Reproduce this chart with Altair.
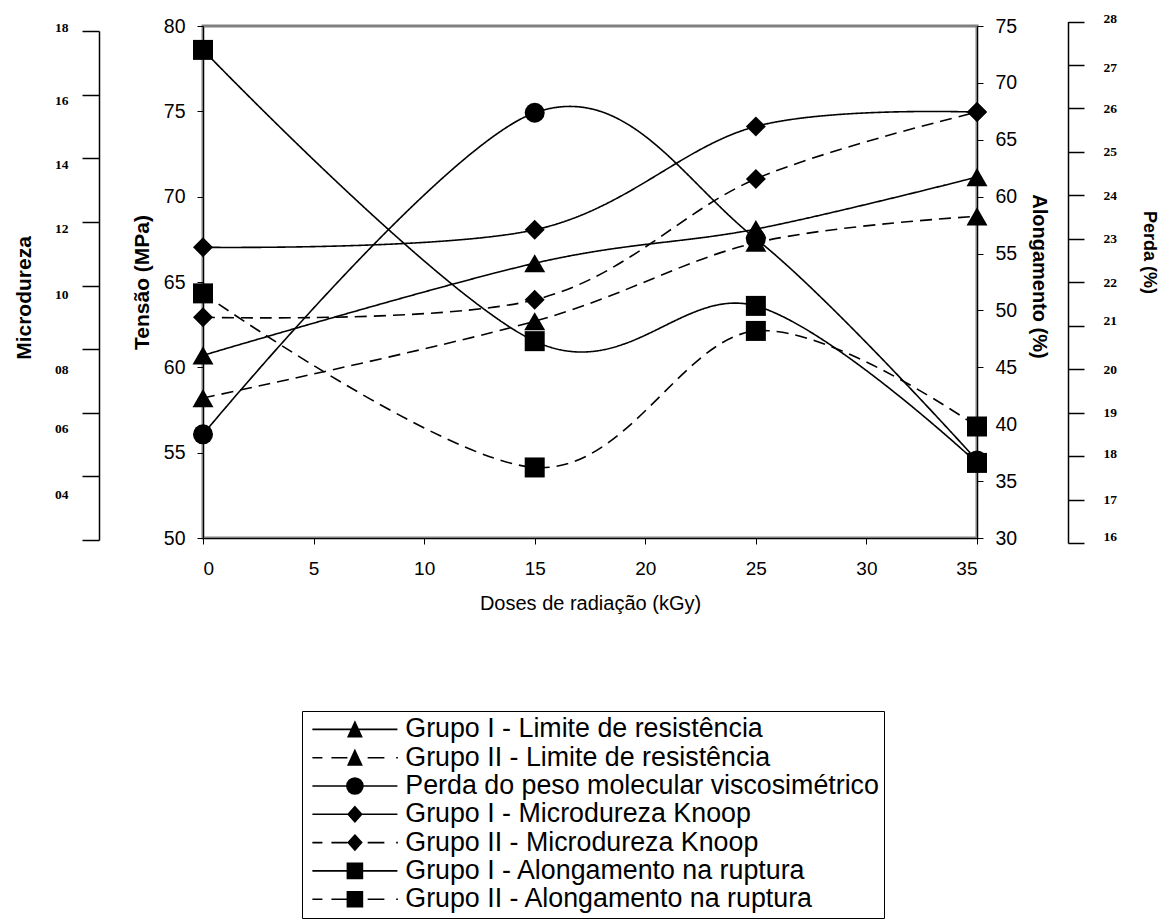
import altair as alt
import pandas as pd

# Doses de radiação (kGy)
doses = [0, 15, 25, 35]

# Séries medidas
limite_g1 = [60.7, 66.1, 68.1, 71.15]   # Tensão (MPa)
limite_g2 = [58.2, 62.7, 67.3, 68.85]   # Tensão (MPa)
perda_pm = [18.5, 25.9, 23.0, 17.9]     # Perda (%)
micro_g1 = [11.2, 11.75, 15.0, 15.45]   # Microdureza
micro_g2 = [9.0, 9.55, 13.35, 15.45]    # Microdureza
along_g1 = [72.9, 47.3, 50.4, 36.6]     # Alongamento (%)
along_g2 = [51.5, 36.2, 48.2, 39.8]     # Alongamento (%)

series_names = [
    "Grupo I - Limite de resistência",
    "Grupo II - Limite de resistência",
    "Perda do peso molecular viscosimétrico",
    "Grupo I - Microdureza Knoop",
    "Grupo II - Microdureza Knoop",
    "Grupo I - Alongamento na ruptura",
    "Grupo II - Alongamento na ruptura",
]

dose_ticks = [0, 5, 10, 15, 20, 25, 30, 35]
tensao_ticks = [50, 55, 60, 65, 70, 75, 80]
along_ticks = [30, 35, 40, 45, 50, 55, 60, 65, 70, 75]
micro_ticks = [2, 4, 6, 8, 10, 12, 14, 16, 18]
perda_ticks = [16, 17, 18, 19, 20, 21, 22, 23, 24, 25, 26, 27, 28]

SANS = "Liberation Sans"
SERIF = "Liberation Serif"


def frame(entries):
    rows = []
    for name, grupo, vals in entries:
        for d, v in zip(doses, vals):
            rows.append({"dose": d, "valor": v, "serie": name, "grupo": grupo})
    return pd.DataFrame(rows)


df_tensao = frame([(series_names[0], "I", limite_g1), (series_names[1], "II", limite_g2)])
df_perda = frame([(series_names[2], "I", perda_pm)])
df_micro = frame([(series_names[3], "I", micro_g1), (series_names[4], "II", micro_g2)])
df_along = frame([(series_names[5], "I", along_g1), (series_names[6], "II", along_g2)])

dash_scale = alt.Scale(domain=["I", "II"], range=[[1, 0], [12, 7]])

x_enc = alt.X(
    "dose:Q",
    scale=alt.Scale(domain=[0, 35], nice=False, zero=False),
    axis=alt.Axis(
        values=dose_ticks, title="Doses de radiação (kGy)", grid=False,
        labelFont=SANS, labelFontSize=19, labelColor="black", labelPadding=15,
        tickSize=6, tickColor="black", domainColor="black",
        titleFont=SANS, titleFontSize=20, titleFontWeight="normal",
        titleColor="black", titlePadding=15,
    ),
)


def cond_offset(shifts):
    return {
        "condition": [{"test": f"datum.value == {k}", "value": v} for k, v in shifts.items()],
        "value": 0,
    }


def series_layer(df, shape, size, y_scale, y_axis):
    base = alt.Chart(df).encode(x=x_enc, y=alt.Y("valor:Q", scale=y_scale, axis=y_axis))
    lines = base.mark_line(interpolate="cardinal", color="black", strokeWidth=1.6).encode(
        strokeDash=alt.StrokeDash("grupo:N", scale=dash_scale, legend=None),
        detail="serie:N",
    )
    points = base.mark_point(
        filled=True, shape=shape, size=size, color="black", opacity=1
    ).encode(detail="serie:N")
    return alt.layer(lines, points)


tensao = series_layer(
    df_tensao, "triangle-up", 441,
    alt.Scale(domain=[50, 80], nice=False, zero=False),
    alt.Axis(
        orient="left", values=tensao_ticks, grid=False, title="Tensão (MPa)",
        labelFont=SANS, labelFontSize=19.5, labelColor="black", labelPadding=12,
        tickSize=6, tickColor="black", domainColor="black",
        titleFont=SANS, titleFontSize=21, titleFontWeight="bold",
        titleColor="black", titlePadding=11,
    ),
)

alongamento = series_layer(
    df_along, "square", 400,
    alt.Scale(domain=[30, 75], nice=False, zero=False),
    alt.Axis(
        orient="right", values=along_ticks, grid=False, title="Alongamento (%)",
        labelFont=SANS, labelFontSize=19.5, labelColor="black", labelPadding=12,
        tickSize=6, tickColor="black", domainColor="black",
        titleFont=SANS, titleFontSize=20, titleFontWeight="bold",
        titleColor="black", titlePadding=12, titleY=250,
    ),
)

microdureza = series_layer(
    df_micro, "diamond", 400,
    alt.Scale(domain=[2, 18], range=[514, 5], nice=False, zero=False),
    alt.Axis(
        orient="left", offset=104, values=micro_ticks, grid=False, title="Microdureza",
        labelExpr="datum.value == 2 ? '' : (datum.value < 10 ? '0' + datum.value : '' + datum.value)",
        labelFont=SERIF, labelFontSize=13.5, labelFontWeight="bold", labelColor="black",
        labelPadding=14,
        labelOffset=cond_offset({18: -4, 16: 6, 14: 6, 12: 7, 10: 9, 8: 20, 6: 16, 4: 18}),
        tickSize=17, tickWidth=1.5, tickColor="black", domainColor="black", domainWidth=1.5,
        titleFont=SANS, titleFontSize=21, titleFontWeight="bold",
        titleColor="black", titlePadding=20, titleY=271.5,
    ),
)

perda = series_layer(
    df_perda, "circle", 400,
    alt.Scale(domain=[16, 28], range=[517, -4.5], nice=False, zero=False),
    alt.Axis(
        orient="right", offset=91, values=perda_ticks, grid=False, title="Perda (%)",
        labelFont=SERIF, labelFontSize=13.5, labelFontWeight="bold", labelColor="black",
        labelPadding=19,
        labelOffset=cond_offset({28: -3.5, 27: 3, 21: -5, 18: -3, 16: -7}),
        tickSize=16, tickWidth=1.5, tickColor="black", domainColor="black", domainWidth=1.5,
        titleFont=SANS, titleFontSize=18, titleFontWeight="bold",
        titleColor="black", titlePadding=23, titleY=226,
    ),
)

# Legend symbols: a short line (solid or dashed) crossed by the series marker
solid = "M-5.67,0H5.67"
dashed = "M-5.67,0H-4.33M-3.13,0H-1M1.7,0H3.93M5.5,0H5.73"
tri = "M0,-0.96L0.89,0.96L-0.89,0.96Z"
circ = "M-1.07,0A1.07,1.07 0 1,0 1.07,0A1.07,1.07 0 1,0 -1.07,0Z"
diam = "M0,-1L0.9,0L0,1L-0.9,0Z"
sq = "M-1,-1H1V1H-1Z"
legend_paths = [
    solid + tri, dashed + tri, solid + circ, solid + diam,
    dashed + diam, solid + sq, dashed + sq,
]

legend_layer = alt.Chart(pd.DataFrame({"serie": series_names})).transform_filter(
    "false"
).mark_point(
    filled=True, color="black", fill="black", stroke="black", strokeWidth=1.6, opacity=1
).encode(
    shape=alt.Shape(
        "serie:N",
        scale=alt.Scale(domain=series_names, range=legend_paths),
        legend=alt.Legend(
            title=None, orient="none", legendX=99, legendY=685, direction="vertical",
            labelFont=SANS, labelFontSize=26.8, labelColor="black", labelLimit=700,
            symbolSize=225, symbolOffset=34.5, labelOffset=37, rowPadding=0.3, padding=5,
            strokeColor="black", fillColor="white",
            symbolStrokeWidth=1.6, symbolOpacity=1,
        ),
    )
)

chart = (
    alt.layer(tensao, alongamento, microdureza, perda, legend_layer)
    .resolve_scale(y="independent")
    .properties(
        width=774,
        height=512,
        autosize=alt.AutoSizeParams(type="none"),
        padding={"left": 203, "top": 26, "right": 182, "bottom": 382},
        background="white",
    )
    .configure_view(stroke="#808080", strokeWidth=3)
)

chart.save("out.html", embed_options={"renderer": "svg", "actions": False})
